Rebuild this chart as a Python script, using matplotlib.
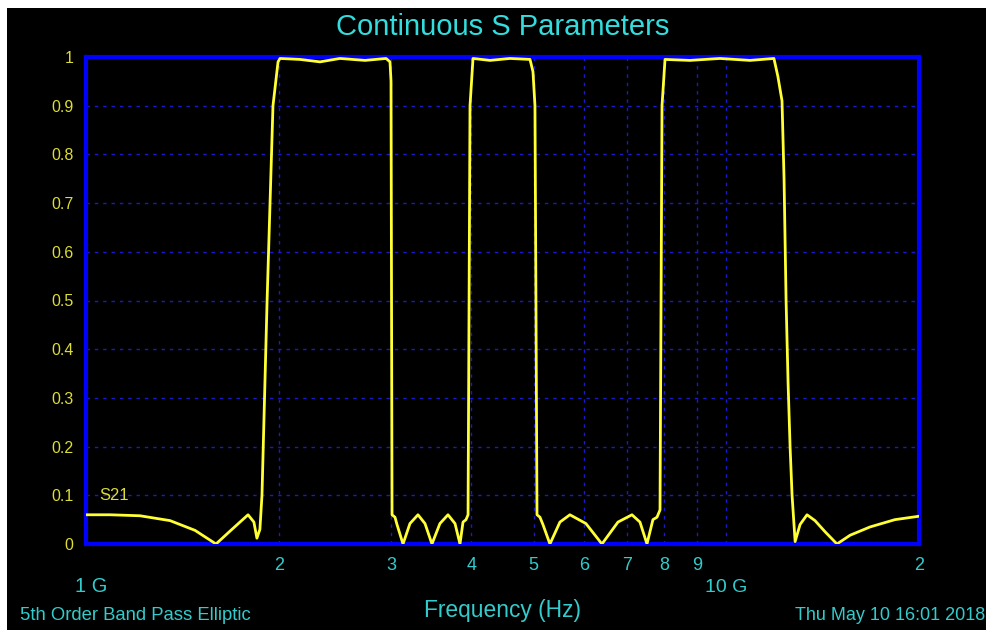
import matplotlib
matplotlib.use("Agg")
import matplotlib.pyplot as plt
import matplotlib.transforms as mtransforms
from matplotlib.patches import Rectangle

# frequency in GHz, S21 magnitude
freq = [1.000, 1.090, 1.214, 1.353, 1.480, 1.596, 1.690, 1.791, 1.829, 1.849,
        1.869, 1.883, 1.918, 1.959, 1.995, 2.009, 2.159, 2.320, 2.493, 2.728,
        2.942, 2.984, 2.995, 3.006, 3.038, 3.060, 3.127, 3.206, 3.300, 3.384,
        3.470, 3.571, 3.676, 3.770, 3.838, 3.880, 3.922, 3.951, 3.979, 4.022,
        4.275, 4.595, 4.937, 4.990, 5.026, 5.063, 5.117, 5.172, 5.304, 5.498,
        5.699, 6.037, 6.395, 6.774, 7.124, 7.332, 7.519, 7.682, 7.795, 7.880,
        7.937, 8.023, 8.776, 9.777, 10.89, 11.87, 12.04, 12.22, 12.31, 12.40,
        12.49, 12.58, 12.67, 12.81, 13.04, 13.37, 13.76, 14.27, 14.89, 15.61,
        16.77, 18.34, 20.00]
s21 = [0.060, 0.060, 0.058, 0.048, 0.028, 0.000, 0.030, 0.060, 0.045, 0.012,
       0.030, 0.100, 0.500, 0.900, 0.990, 0.997, 0.995, 0.990, 0.997, 0.993,
       0.997, 0.990, 0.950, 0.060, 0.055, 0.040, 0.000, 0.042, 0.060, 0.042,
       0.000, 0.042, 0.060, 0.042, 0.000, 0.045, 0.050, 0.060, 0.900, 0.997,
       0.993, 0.997, 0.995, 0.970, 0.900, 0.060, 0.055, 0.040, 0.000, 0.045,
       0.060, 0.042, 0.000, 0.045, 0.060, 0.045, 0.000, 0.050, 0.055, 0.070,
       0.900, 0.995, 0.993, 0.997, 0.993, 0.997, 0.960, 0.910, 0.750, 0.500,
       0.330, 0.200, 0.100, 0.005, 0.040, 0.060, 0.048, 0.025, 0.000, 0.018,
       0.035, 0.050, 0.057]

xticks = [2, 3, 4, 5, 6, 7, 8, 9, 10, 20]
xlabels = ["2", "3", "4", "5", "6", "7", "8", "9", "", "2"]
yticks = [0, 0.1, 0.2, 0.3, 0.4, 0.5, 0.6, 0.7, 0.8, 0.9, 1]
ylabels = ["0", "0.1", "0.2", "0.3", "0.4", "0.5", "0.6", "0.7", "0.8", "0.9", "1"]

cyan = "#33cccc"
yellow = "#ffff33"
blue = "#0000ff"

plt.rcParams["font.family"] = ["Liberation Sans", "DejaVu Sans"]

fig = plt.figure(figsize=(9.87, 6.30), dpi=100, facecolor="white")
fig.patches.append(Rectangle((7 / 987, 0), 1, 622 / 630, transform=fig.transFigure,
                             facecolor="black", edgecolor="none", zorder=-10))

ax = fig.add_axes([86 / 987, 1 - 544 / 630, 833 / 987, 487 / 630])
ax.set_facecolor("black")
ax.plot(freq, s21, color=yellow, linewidth=2.0, zorder=3)

ax.set_xscale("log")
ax.set_xlim(1, 20)
ax.set_ylim(0, 1)
ax.minorticks_off()
ax.set_xticks(xticks)
ax.set_xticklabels(xlabels)
ax.set_yticks(yticks)
ax.set_yticklabels(ylabels)
ax.tick_params(axis="x", length=0, pad=9, labelsize=13, labelcolor=cyan)
ax.tick_params(axis="y", length=0, pad=9, labelsize=11.5, labelcolor="#dddd33")
ax.grid(True, color="#1a1acc", linestyle=(0, (2.5, 3.5)), linewidth=1.0)

for sp in ax.spines.values():
    sp.set_color(blue)
    sp.set_linewidth(3)
    sp.set_zorder(2.5)

trans = mtransforms.blended_transform_factory(ax.transData, fig.transFigure)
ax.text(1.02, 1 - 587 / 630, "1 G", transform=trans, ha="center", va="center",
        color=cyan, fontsize=14.5, clip_on=False)
ax.text(10.0, 1 - 587 / 630, "10 G", transform=trans, ha="center", va="center",
        color=cyan, fontsize=14, clip_on=False)
ax.text(1.05, 0.1, "S21", color="#dddd33", fontsize=12, ha="left", va="center")

fig.text(503 / 987, 1 - 27 / 630, "Continuous S Parameters", color="#33dddd",
         fontsize=21, ha="center", va="center")
fig.text(503 / 987, 1 - 611 / 630, "Frequency (Hz)", color=cyan,
         fontsize=16.4, ha="center", va="center")
fig.text(20 / 987, 1 - 615 / 630, "5th Order Band Pass Elliptic", color=cyan,
         fontsize=13.3, ha="left", va="center")
fig.text(985 / 987, 1 - 615 / 630, "Thu May 10 16:01 2018", color=cyan,
         fontsize=13, ha="right", va="center")

fig.savefig("out.png", dpi=100, facecolor="white")
